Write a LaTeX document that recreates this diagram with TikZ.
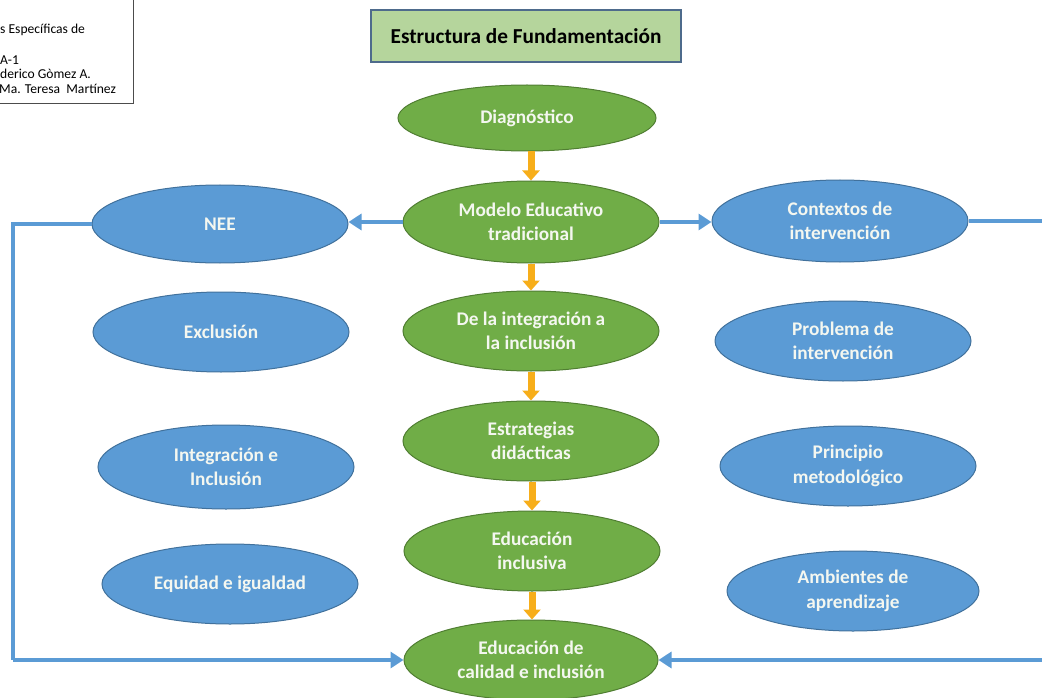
\documentclass[tikz,border=0pt]{standalone}
\usepackage{fontspec}
\setmainfont{Carlito}
\usetikzlibrary{shapes.geometric,arrows.meta}
\definecolor{gfill}{HTML}{70AD47}
\definecolor{gdraw}{HTML}{507E32}
\definecolor{bfill}{HTML}{5B9BD5}
\definecolor{bdraw}{HTML}{41719C}
\definecolor{titlefill}{HTML}{B5D59C}
\definecolor{titledraw}{HTML}{4E6B8C}
\definecolor{arrorange}{HTML}{F7AE1A}
\definecolor{txtwhite}{HTML}{F4F7F0}
\tikzset{
  oval/.style={ellipse, minimum width=256pt, minimum height=80pt, inner sep=0pt, line width=1pt, align=center,
    text=txtwhite, font=\fontsize{19.3}{24.5}\selectfont\bfseries},
  gnode/.style={oval, fill=gfill, draw=gdraw},
  bnode/.style={oval, fill=bfill, draw=bdraw},
  oarrow/.style={draw=arrorange, line width=7pt, -{Triangle[length=10pt,width=17pt]}},
  barrow/.style={draw=bfill, line width=4pt, -{Triangle[length=13pt,width=16pt]}},
  bline/.style={draw=bfill, line width=4pt},
  infotext/.style={anchor=west, font=\fontsize{13.6}{15}\selectfont, inner sep=0pt},
}
\begin{document}
\begin{tikzpicture}[x=1pt,y=-1pt]
\useasboundingbox (0,0) rectangle (1042,698);
\clip (0,0) rectangle (1042,698);
% info box
\node[draw=black!70, line width=0.8pt, minimum width=146pt, minimum height=112pt, inner sep=0pt] (info) at (60,47) {};
\node[infotext] (i1) at (0,30) {s Específicas de};
\node[infotext] (i2) at (0,60) {A-1};
\node[infotext] (i3) at (0,74) {derico Gòmez A.};
\begin{scope}
\clip (0,0) rectangle (132,101);
\node[infotext] (i4) at (-1,89) {Ma. Teresa\ \ Martínez};
\end{scope}
% title
\node[draw=titledraw, fill=titlefill, line width=1.2pt, minimum width=310pt, minimum height=52pt, inner sep=0pt,
  font=\fontsize{21.3}{24}\selectfont\bfseries] (title) at (526,36) {Estructura de Fundamentación};
% green nodes
\node[gnode, minimum width=258pt, minimum height=66pt] (diag) at (527,118) {Diagnóstico};
\node[gnode, minimum height=82pt] (modelo) at (531,222) {Modelo Educativo\\tradicional};
\node[gnode] (integ) at (531,331) {De la integración a\\la inclusión};
\node[gnode] (estr) at (531,441) {Estrategias\\didácticas};
\node[gnode] (einc) at (532,551) {Educación\\inclusiva};
\node[gnode, minimum width=254pt] (cal) at (531,660) {Educación de\\calidad e inclusión};
% blue nodes
\node[bnode, minimum height=78pt] (nee) at (220,224) {NEE};
\node[bnode] (excl) at (221,332) {Exclusión};
\node[bnode, minimum height=84pt] (intinc) at (226,467) {Integración e\\Inclusión};
\node[bnode] (equi) at (230,584) {Equidad e igualdad};
\node[bnode, minimum height=82pt] (ctx) at (840,221) {Contextos de\\intervención};
\node[bnode] (prob) at (843,341) {Problema de\\intervención};
\node[bnode] (prin) at (848,466) {Principio\\metodológico};
\node[bnode, minimum width=252pt] (amb) at (853,591) {Ambientes de\\aprendizaje};
% orange arrows
\draw[oarrow] (diag.south -| modelo.center) -- (modelo.north);
\draw[oarrow] (modelo.south) -- (integ.north);
\draw[oarrow] (integ.south) -- (estr.north);
\draw[oarrow] (estr.south -| einc.center) -- (einc.north);
\draw[oarrow] (einc.south) -- (einc.south |- cal.north);
% blue arrows
\draw[barrow] (modelo.west) -- (modelo.west -| nee.east);
\draw[barrow] (modelo.east) -- (modelo.east -| ctx.west);
\coordinate (lt) at (13,224);
\coordinate (lb) at (13,660);
\coordinate (rt) at (1050,221);
\coordinate (rb) at (1050,660);
\draw[bline] (nee.west) -- (lt) -- (lb);
\draw[barrow] (lb) -- (cal.west);
\draw[bline] (ctx.east) -- (rt) -- (rb);
\draw[barrow] (rb) -- (cal.east);
\end{tikzpicture}
\end{document}
